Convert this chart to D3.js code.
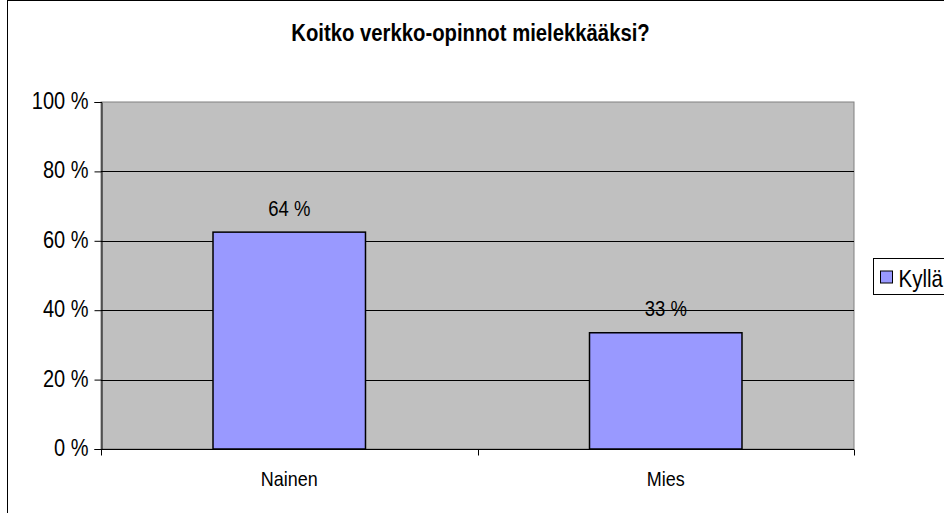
<!DOCTYPE html>
<html>
<head>
<meta charset="utf-8">
<script src="https://cdn.jsdelivr.net/npm/d3@7"></script>
<style>
  body { margin: 0; background: #fff; }
  svg text { font-family: "Liberation Sans", Arial, sans-serif; fill: #000; }
</style>
</head>
<body>
<div id="chart"></div>
<script>
// data
const title = "Koitko verkko-opinnot mielekkääksi?";
const categories = ["Nainen", "Mies"];
const values = [0.625, 0.335];
const valueLabels = ["64 %", "33 %"];
const seriesName = "Kyllä";
const yTicks = [0, 0.2, 0.4, 0.6, 0.8, 1];

const width = 944, height = 513;
const plot = { left: 101, right: 854, top: 102, bottom: 449 };
const stretch = 1.15; // text in the original is a bit taller than wide

const svg = d3.select("#chart").append("svg")
    .attr("width", width)
    .attr("height", height);

// helper: text placed at (x, y) with vertical stretch
function addText(parent, x, y, str, size, anchor, bold) {
    return parent.append("text")
        .attr("transform", `translate(${x},${y}) scale(1,${stretch})`)
        .attr("text-anchor", anchor || "start")
        .style("font-size", size + "px")
        .style("font-weight", bold ? "bold" : "normal")
        .text(str);
}

// outer chart border (cropped on right/bottom)
svg.append("rect")
    .attr("x", 7.5).attr("y", 0.5)
    .attr("width", width + 20).attr("height", height + 20)
    .attr("fill", "#fff")
    .attr("stroke", "#000")
    .attr("stroke-width", 1);

const x = d3.scaleBand()
    .domain(categories)
    .range([plot.left, plot.right])
    .paddingInner(0).paddingOuter(0);

const y = d3.scaleLinear()
    .domain([0, 1])
    .range([plot.bottom, plot.top]);

// plot background
svg.append("rect")
    .attr("x", plot.left).attr("y", plot.top)
    .attr("width", plot.right - plot.left)
    .attr("height", plot.bottom - plot.top)
    .attr("fill", "#c0c0c0")
    .attr("stroke", "#808080")
    .attr("stroke-width", 1);

// gridlines
svg.append("g")
    .selectAll("line")
    .data(yTicks.filter(d => d > 0 && d < 1))
    .enter().append("line")
    .attr("x1", plot.left).attr("x2", plot.right)
    .attr("y1", d => Math.round(y(d)) + 0.5)
    .attr("y2", d => Math.round(y(d)) + 0.5)
    .attr("stroke", "#000")
    .attr("stroke-width", 1);

// bars
const barW = x.bandwidth() * 0.405;
svg.append("g")
    .selectAll("rect")
    .data(categories)
    .enter().append("rect")
    .attr("x", (d) => x(d) + (x.bandwidth() - barW) / 2)
    .attr("y", (d, i) => y(values[i]))
    .attr("width", barW)
    .attr("height", (d, i) => y(0) - y(values[i]))
    .attr("fill", "#9999ff")
    .attr("stroke", "#000")
    .attr("stroke-width", 1.5);

// value labels
const labelG = svg.append("g");
categories.forEach((c, i) => {
    addText(labelG, x(c) + x.bandwidth() / 2, y(values[i]) - 16.5, valueLabels[i], 18.5, "middle");
});

// y axis
const yAxis = d3.axisLeft(y)
    .tickValues(yTicks)
    .tickSize(7)
    .tickFormat("");

const gy = svg.append("g")
    .attr("transform", `translate(${plot.left + 0.5},0)`)
    .call(yAxis);
gy.select(".domain").attr("stroke", "#000");
gy.selectAll(".tick line").attr("stroke", "#000");
yTicks.forEach(t => {
    addText(svg, 88.5, y(t) + 7, Math.round(t * 100) + " %", 20, "end");
});

// x axis
const gx = svg.append("g")
    .attr("transform", `translate(0,${plot.bottom + 0.5})`);
gx.append("line")
    .attr("x1", plot.left).attr("x2", plot.right)
    .attr("stroke", "#000");
const xTickPos = [plot.left, ...categories.slice(1).map(c => x(c)), plot.right];
gx.selectAll(".xtick")
    .data(xTickPos)
    .enter().append("line")
    .attr("class", "xtick")
    .attr("x1", d => Math.round(d) + 0.5).attr("x2", d => Math.round(d) + 0.5)
    .attr("y1", 0).attr("y2", 6)
    .attr("stroke", "#000");
categories.forEach(c => {
    addText(svg, x(c) + x.bandwidth() / 2, 485.5, c, 18, "middle");
});

// title
addText(svg, 470.5, 41, title, 20.3, "middle", true);

// legend (cut off at the right edge)
const legend = svg.append("g").attr("transform", "translate(873.5,258.5)");
legend.append("rect")
    .attr("width", 100).attr("height", 36)
    .attr("fill", "#fff")
    .attr("stroke", "#000")
    .attr("stroke-width", 1);
legend.append("rect")
    .attr("x", 7).attr("y", 12.5)
    .attr("width", 12).attr("height", 12)
    .attr("fill", "#9999ff")
    .attr("stroke", "#000");
addText(legend, 25, 28, seriesName, 20.5, "start");
</script>
</body>
</html>
